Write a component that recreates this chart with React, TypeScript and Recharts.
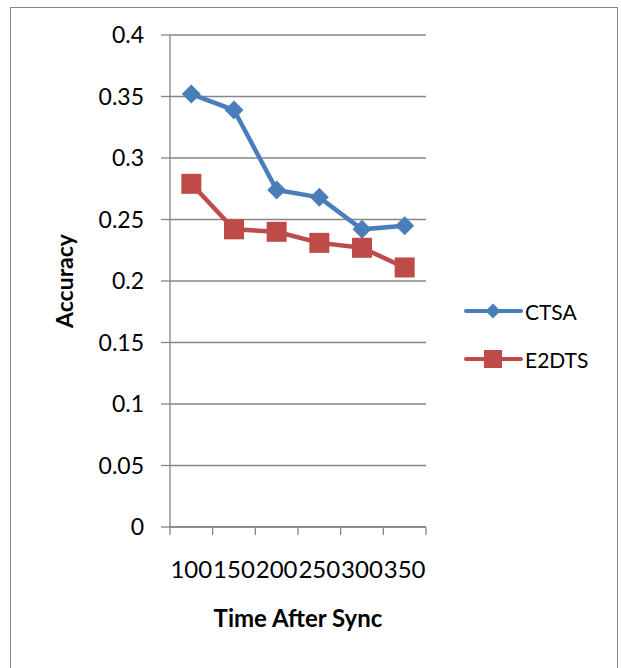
import React from 'react';
import { LineChart, Line, XAxis, YAxis, CartesianGrid, Legend } from 'recharts';

const categories = ['100', '150', '200', '250', '300', '350'];
const ctsaValues = [0.352, 0.339, 0.274, 0.268, 0.242, 0.245];
const e2dtsValues = [0.279, 0.242, 0.24, 0.231, 0.227, 0.211];
const yTicks = [0, 0.05, 0.1, 0.15, 0.2, 0.25, 0.3, 0.35, 0.4];

const data = categories.map((c, i) => ({ idx: i, name: c, CTSA: ctsaValues[i], E2DTS: e2dtsValues[i] }));
const labelTicks = categories.map((_, i) => i);
const boundaryTicks = [...categories.map((_, i) => i - 0.5), categories.length - 0.5];
const allXTicks = [...boundaryTicks, ...labelTicks].sort((a, b) => a - b);

const FONT = 'Lato, "Open Sans", sans-serif';
const BLUE = '#4A7EBB';
const RED = '#BE4B48';
const GRID = '#868686';

const Diamond = (props: any) => {
  const { cx, cy, fill, size = 8 } = props;
  if (cx == null || cy == null) return null;
  return <path d={`M${cx},${cy - size}L${cx + size},${cy}L${cx},${cy + size}L${cx - size},${cy}Z`} fill={fill} />;
};
const Square = (props: any) => {
  const { cx, cy, fill, size = 9 } = props;
  if (cx == null || cy == null) return null;
  return <rect x={cx - size} y={cy - size} width={size * 2} height={size * 2} fill={fill} />;
};

const XTick = (props: any) => {
  const { x, y, payload } = props;
  const v = payload?.value;
  if (Number.isInteger(v)) {
    return (
      <text x={x} y={y + 34} dy="0.71em" textAnchor="middle" fontFamily={FONT} fontSize={24} fill="#000">
        {categories[v]}
      </text>
    );
  }
  return <line x1={x} y1={y} x2={x} y2={y + 8} stroke={GRID} strokeWidth={1.3} />;
};

const LegendContent = (props: any) => {
  const { payload = [] } = props;
  return (
    <div style={{ fontFamily: FONT, fontSize: 21, color: '#000' }}>
      {payload.map((p: any) => (
        <div key={p.value} style={{ display: 'flex', alignItems: 'center', height: 48 }}>
          <svg width={60} height={24} style={{ display: 'block' }}>
            <line x1={2} y1={12} x2={57} y2={12} stroke={p.color} strokeWidth={4} strokeLinecap="round" />
            {p.value === 'CTSA' ? <Diamond cx={29} cy={12} size={7.5} fill={p.color} /> : <Square cx={29} cy={12} size={9} fill={p.color} />}
          </svg>
          <span style={{ marginLeft: 1 }}>{p.value}</span>
        </div>
      ))}
    </div>
  );
};

export default function App() {
  return (
    <div style={{ position: 'absolute', left: 0, top: 0, width: 621, height: 668, overflow: 'hidden', background: '#fff' }}>
      <div style={{ position: 'absolute', left: 10, top: 7, width: 606, height: 720, border: '1.5px solid #868686' }} />
      <div style={{ position: 'absolute', left: 0, top: 0 }}>
        <LineChart width={621} height={668} data={data} margin={{ top: 35, right: 45, left: 0, bottom: 41 }}>
          <CartesianGrid vertical={false} stroke={GRID} strokeWidth={1.3} />
          <XAxis
            type="number"
            dataKey="idx"
            domain={[-0.5, categories.length - 0.5]}
            ticks={allXTicks}
            tick={<XTick />}
            tickLine={false}
            tickSize={0}
            tickMargin={0}
            height={100}
            interval={0}
            stroke={GRID}
            strokeWidth={1.3}
            label={{ value: 'Time After Sync', position: 'insideBottom', offset: 0, style: { fontFamily: FONT, fontSize: 24, fontWeight: 'bold', fill: '#000' } }}
          />
          <YAxis
            type="number"
            domain={[0, 0.4]}
            ticks={yTicks}
            width={170}
            tickSize={9}
            tickMargin={17}
            stroke={GRID}
            strokeWidth={1.3}
            interval={0}
            tick={{ fontFamily: FONT, fontSize: 23, fill: '#000' }}
            label={{ value: 'Accuracy', angle: -90, position: 'insideLeft', offset: 65, style: { textAnchor: 'middle', fontFamily: FONT, fontSize: 23, fontWeight: 'bold', fill: '#000' } }}
          />
          <Legend layout="vertical" align="right" verticalAlign="top" content={<LegendContent />} wrapperStyle={{ position: 'absolute', left: 464, top: 287, width: 150 }} />
          <Line type="linear" dataKey="CTSA" name="CTSA" stroke={BLUE} strokeWidth={4.5} dot={<Diamond size={9.5} fill={BLUE} />} activeDot={false} isAnimationActive={false} />
          <Line type="linear" dataKey="E2DTS" name="E2DTS" stroke={RED} strokeWidth={4.5} dot={<Square size={10} fill={RED} />} activeDot={false} isAnimationActive={false} />
        </LineChart>
      </div>
    </div>
  );
}
